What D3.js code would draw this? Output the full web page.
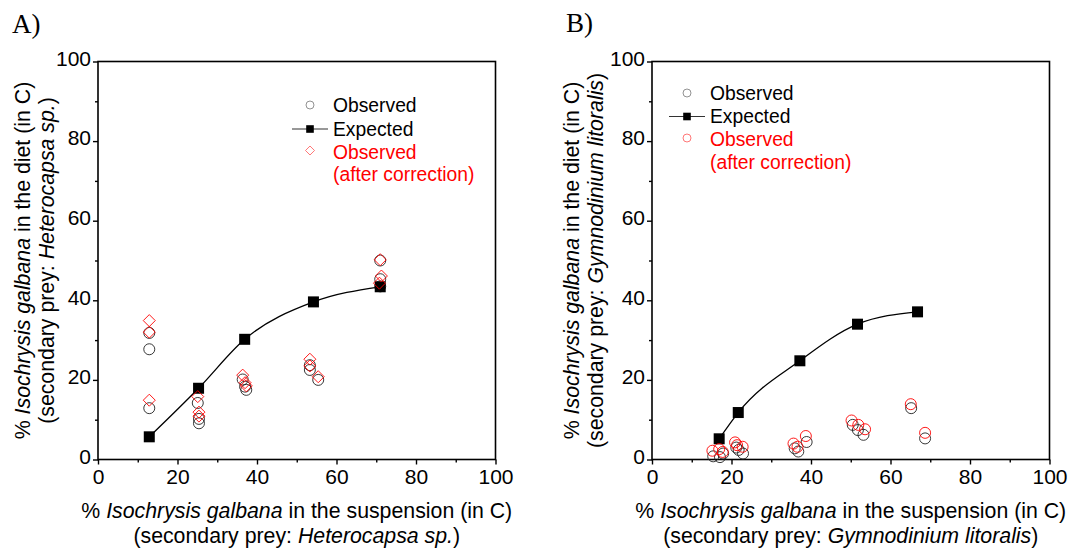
<!DOCTYPE html>
<html><head><meta charset="utf-8">
<script src="https://cdn.jsdelivr.net/npm/d3@7"></script>
<style>
html,body{margin:0;padding:0;background:#fff;}
svg{display:block;}
</style></head>
<body>
<svg id="chart" width="1085" height="550" font-family='"Liberation Sans",Arial,sans-serif'></svg>
<script>
// ---- data ----
const ticks = [0, 20, 40, 60, 80, 100];
const minorTicks = [10, 30, 50, 70, 90];

// Panel A (secondary prey: Heterocapsa sp.)
const expAx = [12.9, 25.3, 36.9, 54.2, 71.0];
const expAy = [5.7, 17.9, 30.2, 39.6, 43.4];
const obsAx = [12.9, 12.9, 12.9, 25.1, 25.4, 25.4, 36.4, 37.0, 37.3, 53.3, 53.3, 55.4, 71.0, 71.0, 71.0];
const obsAy = [31.8, 27.7, 12.9, 14.2, 10.2, 9.1, 20.1, 18.3, 17.5, 23.7, 22.5, 20.0, 50.0, 45.3, 43.5];
const corAx = [12.9, 12.9, 12.9, 25.1, 25.4, 25.4, 36.4, 37.0, 37.3, 53.3, 53.3, 55.4, 71.0, 71.3, 70.8];
const corAy = [34.9, 32.0, 14.9, 15.8, 11.9, 10.9, 21.2, 19.3, 18.5, 25.2, 23.5, 20.8, 50.2, 46.1, 44.3];

// Panel B (secondary prey: Gymnodinium litoralis)
const expBx = [16.9, 21.7, 37.2, 51.7, 66.8];
const expBy = [5.2, 11.8, 24.8, 34.0, 37.1];
const obsBx = [15.4, 17.1, 17.9, 21.2, 21.8, 22.9, 35.9, 36.8, 38.9, 50.5, 51.8, 53.2, 65.2, 68.7];
const obsBy = [0.8, 0.6, 1.5, 3.0, 2.4, 1.5, 2.8, 2.0, 4.4, 8.7, 7.4, 6.2, 12.9, 5.3];
const corBx = [15.2, 16.9, 17.8, 20.9, 21.4, 22.8, 35.6, 36.6, 38.7, 50.2, 51.9, 53.6, 65.1, 68.7];
const corBy = [2.2, 2.6, 1.9, 4.3, 3.6, 3.2, 4.0, 3.2, 5.9, 9.8, 8.7, 7.6, 13.9, 6.7];

const panelLabels = ["A)", "B)"];
const legendLabels = ["Observed", "Expected", "Observed", "(after correction)"];
const preyNames = ["Heterocapsa sp.", "Gymnodinium litoralis"];
const yTitle = ["% ", "Isochrysis galbana", " in the diet (in C)"];
const xTitle = ["% ", "Isochrysis galbana", " in the suspension (in C)"];
const prefix2 = "(secondary prey: ";

// ---- drawing ----
const svg = d3.select("#chart");
const RED = "#ff0000";
const SANS = '"Liberation Sans",Arial,sans-serif';
const SERIF = '"Liberation Serif","Times New Roman",serif';

function panel(cfg) {
  const x = d3.scaleLinear().domain([0, 100]).range([cfg.x0, cfg.x1]);
  const y = d3.scaleLinear().domain([0, 100]).range([459.5, 61.5]);
  const g = svg.append("g");

  // frame
  g.append("rect").attr("x", x(0)).attr("y", y(100))
    .attr("width", x(100) - x(0)).attr("height", y(0) - y(100))
    .attr("fill", "none").attr("stroke", "#000").attr("stroke-width", 1.6);

  // axes
  const xa = g.append("g").attr("transform", `translate(0,${y(0)})`)
    .call(d3.axisBottom(x).tickValues(ticks).tickSize(5).tickPadding(4));
  const xm = g.append("g").attr("transform", `translate(0,${y(0)})`)
    .call(d3.axisBottom(x).tickValues(minorTicks).tickSize(3).tickFormat(""));
  const ya = g.append("g").attr("transform", `translate(${x(0)},0)`)
    .call(d3.axisLeft(y).tickValues(ticks).tickSize(5).tickPadding(2));
  const ym = g.append("g").attr("transform", `translate(${x(0)},0)`)
    .call(d3.axisLeft(y).tickValues(minorTicks).tickSize(3).tickFormat(""));
  [xa, xm, ya, ym].forEach(a => {
    a.select(".domain").remove();
    a.selectAll(".tick line").attr("stroke", "#000").attr("stroke-width", 1.4);
    a.selectAll("text").attr("font-size", 21).attr("fill", "#000")
      .attr("font-family", SANS);
  });
  xa.selectAll("text").attr("dy", "0.72em");
  ya.selectAll("text").attr("dy", "0.18em");

  // titles
  const FS = 21.3;
  const xt = g.append("text").attr("text-anchor", "middle")
    .attr("x", (x(0) + x(100)) / 2).attr("y", 518).attr("font-size", FS);
  xt.append("tspan").text(xTitle[0]);
  xt.append("tspan").attr("font-style", "italic").text(xTitle[1]);
  xt.append("tspan").text(xTitle[2]);
  const xt2 = g.append("text").attr("text-anchor", "middle")
    .attr("x", (x(0) + x(100)) / 2).attr("y", 543).attr("font-size", FS);
  xt2.append("tspan").text(prefix2);
  xt2.append("tspan").attr("font-style", "italic").text(cfg.prey);
  xt2.append("tspan").text(")");

  const yc = (y(0) + y(100)) / 2;
  const yt = g.append("text").attr("text-anchor", "middle")
    .attr("transform", `translate(${cfg.yt1},${yc}) rotate(-90)`).attr("font-size", FS);
  yt.append("tspan").text(yTitle[0]);
  yt.append("tspan").attr("font-style", "italic").text(yTitle[1]);
  yt.append("tspan").text(yTitle[2]);
  const yt2 = g.append("text").attr("text-anchor", "middle")
    .attr("transform", `translate(${cfg.yt2},${yc}) rotate(-90)`).attr("font-size", FS);
  yt2.append("tspan").text(prefix2);
  yt2.append("tspan").attr("font-style", "italic").text(cfg.prey);
  yt2.append("tspan").text(")");

  // panel label
  g.append("text").attr("x", cfg.lx).attr("y", cfg.ly)
    .style("font-family", SERIF)
    .attr("font-size", 27).text(cfg.label);

  // expected line
  const exp = cfg.ex.map((v, i) => [v, cfg.ey[i]]);
  g.append("path").datum(exp)
    .attr("d", d3.line().x(d => x(d[0])).y(d => y(d[1])).curve(d3.curveMonotoneX))
    .attr("fill", "none").attr("stroke", "#000").attr("stroke-width", 1.3);

  // observed circles
  const obs = cfg.ox.map((v, i) => [v, cfg.oy[i]]);
  g.selectAll(".obs").data(obs).enter().append("circle")
    .attr("cx", d => x(d[0])).attr("cy", d => y(d[1])).attr("r", 5.5)
    .attr("fill", "none").attr("stroke", "#222").attr("stroke-width", 0.9);

  const sq = 11;
  g.selectAll(".exp").data(exp).enter().append("rect")
    .attr("x", d => x(d[0]) - sq / 2).attr("y", d => y(d[1]) - sq / 2)
    .attr("width", sq).attr("height", sq).attr("fill", "#000");

  // corrected
  const cor = cfg.cx.map((v, i) => [v, cfg.cy[i]]);
  if (cfg.diamond) {
    const s = 6;
    g.selectAll(".cor").data(cor).enter().append("path")
      .attr("d", d => `M${x(d[0])},${y(d[1]) - s}L${x(d[0]) + s},${y(d[1])}L${x(d[0])},${y(d[1]) + s}L${x(d[0]) - s},${y(d[1])}Z`)
      .attr("fill", "none").attr("stroke", RED).attr("stroke-width", 0.9);
  } else {
    g.selectAll(".cor").data(cor).enter().append("circle")
      .attr("cx", d => x(d[0])).attr("cy", d => y(d[1])).attr("r", 5.5)
      .attr("fill", "none").attr("stroke", RED).attr("stroke-width", 0.9);
  }

  // legend
  const L = cfg.leg;
  const lg = g.append("g");
  lg.append("circle").attr("cx", L.sx).attr("cy", L.b[0] - 7).attr("r", 4)
    .attr("fill", "none").attr("stroke", "#777").attr("stroke-width", 0.8);
  lg.append("line").attr("x1", L.sx - 18).attr("x2", L.sx + 18)
    .attr("y1", L.b[1] - 6.5).attr("y2", L.b[1] - 6.5)
    .attr("stroke", "#333").attr("stroke-width", 1.1);
  lg.append("rect").attr("x", L.sx - 3.8).attr("y", L.b[1] - 6.5 - 3.8)
    .attr("width", 7.6).attr("height", 7.6).attr("fill", "#000");
  if (cfg.diamond) {
    const s = 4.5, cx0 = L.sx, cy0 = L.b[2] - 8;
    lg.append("path").attr("d", `M${cx0},${cy0 - s}L${cx0 + s},${cy0}L${cx0},${cy0 + s}L${cx0 - s},${cy0}Z`)
      .attr("fill", "none").attr("stroke", "#f55").attr("stroke-width", 0.8);
  } else {
    lg.append("circle").attr("cx", L.sx).attr("cy", L.b[2] - 8).attr("r", 4)
      .attr("fill", "none").attr("stroke", "#f55").attr("stroke-width", 0.8);
  }
  legendLabels.forEach((t, i) => {
    lg.append("text").attr("x", L.tx).attr("y", L.b[i]).attr("font-size", 19.3)
      .attr("fill", i >= 2 ? RED : "#000").text(t);
  });
}

panel({
  x0: 98, x1: 495.5, yt1: 29.5, yt2: 53.5, lx: 12, ly: 33, label: panelLabels[0],
  prey: preyNames[0], ex: expAx, ey: expAy, ox: obsAx, oy: obsAy, cx: corAx, cy: corAy,
  diamond: true, leg: { sx: 310, tx: 333, b: [112, 135.5, 158.5, 180.5] }
});
panel({
  x0: 652, x1: 1049.5, yt1: 579, yt2: 603, lx: 566, ly: 32, label: panelLabels[1],
  prey: preyNames[1], ex: expBx, ey: expBy, ox: obsBx, oy: obsBy, cx: corBx, cy: corBy,
  diamond: false, leg: { sx: 687, tx: 710, b: [100, 123, 146, 168.5] }
});
</script>
</body></html>
